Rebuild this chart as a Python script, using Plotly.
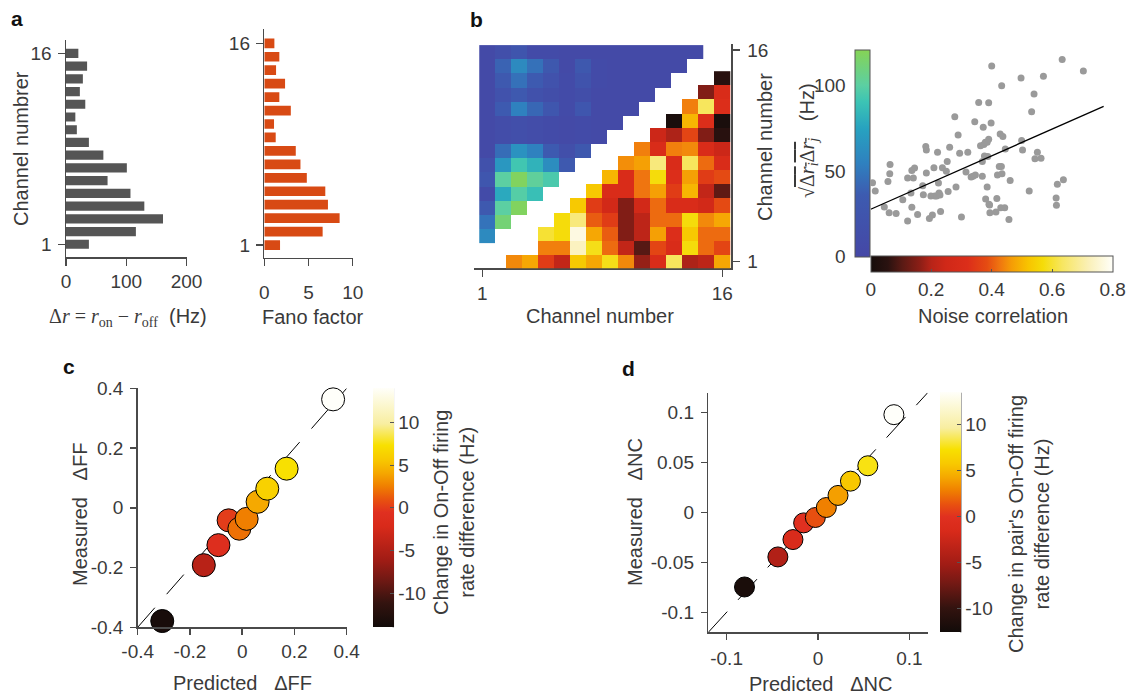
import plotly.graph_objects as go

W, H = 1137, 697
FONT = "Liberation Sans, Arial, Helvetica, sans-serif"
TXT = "#3a3a3a"
AX = "#4a4a4a"
TICK = 19
TITLE = 20


def fx(p):
    return p / W


def fy(p):
    return 1 - p / H


# ---------------- data ----------------
channels = list(range(1, 17))
delta_r = [38, 116, 161, 130, 107, 69, 101, 62, 38, 18, 15.5, 32, 23, 28, 35, 20.5]
fano = [1.78, 6.6, 8.52, 7.2, 6.9, 4.81, 4.09, 3.56, 1.29, 1.1, 3.0, 1.7, 2.35, 1.33, 1.7, 1.14]

# lower triangle (noise correlation); row channel 1..14, first column of each row
nc_row_start = [3, 5, 5, 6, 7, 8, 9, 10, 11, 12, 13, 14, 15, 16]
nc_rows = [
    [0.445, 0.48, 0.35, 0.22, 0.53, 0.48, 0.58, 0.445, 0.17, 0.30, 0.63, 0.19, 0.21, 0.48],
    [0.435, 0.435, 0.73, 0.58, 0.415, 0.22, 0.10, 0.37, 0.30, 0.57, 0.415, 0.37],
    [0.60, 0.57, 0.77, 0.48, 0.40, 0.15, 0.21, 0.47, 0.32, 0.53, 0.415, 0.415],
    [0.57, 0.66, 0.40, 0.35, 0.15, 0.21, 0.415, 0.415, 0.57, 0.445, 0.48],
    [0.53, 0.35, 0.26, 0.15, 0.26, 0.415, 0.30, 0.30, 0.26, 0.38],
    [0.53, 0.30, 0.30, 0.425, 0.47, 0.35, 0.50, 0.22, 0.11],
    [0.50, 0.30, 0.425, 0.57, 0.32, 0.47, 0.35, 0.38],
    [0.45, 0.47, 0.66, 0.30, 0.63, 0.415, 0.30],
    [0.435, 0.30, 0.435, 0.445, 0.30, 0.24],
    [0.24, 0.19, 0.37, 0.15, 0.05],
    [0.01, 0.50, 0.32, 0.01],
    [0.435, 0.63, 0.32],
    [0.15, 0.30],
    [0.05],
]

# upper triangle (sqrt(dri drj), Hz); rows for channel 3..16, starting at column 1
rate_rows = [
    [60],
    [48, 112],
    [32, 100, 118],
    [8, 78, 98, 88],
    [28, 100, 118, 102, 95],
    [18, 68, 92, 82, 62, 32],
    [5, 45, 65, 55, 35, 15, 30],
    [5, 10, 15, 10, 8, 5, 8, 5],
    [5, 10, 15, 10, 8, 5, 8, 5, 5],
    [5, 35, 55, 42, 28, 8, 28, 5, 5, 5],
    [5, 20, 32, 18, 12, 8, 12, 5, 5, 5, 5],
    [5, 33, 47, 35, 20, 8, 22, 8, 5, 5, 5, 5],
    [5, 40, 60, 47, 30, 5, 30, 8, 5, 5, 5, 5, 5],
    [5, 15, 25, 8, 8, 5, 5, 5, 5, 5, 5, 5, 5, 5],
]

# scatter: noise correlation vs sqrt(dri drj)
pair_nc = [0.006, 0.015, 0.045, 0.061, 0.057, 0.063, 0.064, 0.084, 0.106, 0.122, 0.122, 0.133,
           0.136, 0.136, 0.141, 0.145, 0.155, 0.172, 0.174, 0.182, 0.184, 0.184, 0.194, 0.199,
           0.204, 0.209, 0.212, 0.218, 0.221, 0.224, 0.226, 0.229, 0.231, 0.237, 0.25, 0.253,
           0.256, 0.261, 0.278, 0.282, 0.289, 0.294, 0.3, 0.315, 0.321, 0.332, 0.338, 0.344,
           0.346, 0.357, 0.363, 0.369, 0.369, 0.372, 0.374, 0.376, 0.379, 0.38, 0.385, 0.385,
           0.387, 0.39, 0.39, 0.391, 0.393, 0.394, 0.398, 0.4, 0.414, 0.417, 0.419, 0.425,
           0.428, 0.43, 0.432, 0.433, 0.434, 0.437, 0.443, 0.445, 0.457, 0.461, 0.499, 0.502,
           0.497, 0.524, 0.532, 0.54, 0.543, 0.551, 0.563, 0.571, 0.613, 0.614, 0.617, 0.637,
           0.633, 0.703]
pair_rate = [43.2, 38.3, 29, 25.6, 43.9, 48.4, 53.8, 25.2, 33.3, 20.9, 45.9, 37.2,
             28.8, 50.3, 45.9, 51.7, 24.6, 41.4, 36.2, 64.3, 62.3, 48.8, 22.3, 35.4,
             24.4, 51.9, 35.4, 35.4, 61, 43, 37.2, 36, 26.3, 51.9, 49.9, 55.6,
             38.1, 63.9, 81.7, 40.7, 71, 60.4, 23.2, 49.4, 61, 46.5, 47, 78.8,
             47.6, 90, 64.7, 47, 55.6, 75.5, 65.4, 58.7, 66.8, 33.7, 40.7, 66.8,
             58.5, 89.8, 68.5, 30.6, 30.2, 25.6, 78, 111.3, 26.1, 33.9, 47.6, 52.7,
             71.6, 28.6, 52.7, 99.7, 48.4, 70.1, 28.5, 62.9, 21.7, 44.5, 67.8, 62.3,
             104.3, 38.3, 84.6, 94.9, 57.1, 61, 57.5, 105.3, 34.3, 30, 42.2, 44.9,
             115, 108.4]
fit_x = [0.0, 0.77]
fit_y = [27.7, 87.7]

# panel c
ff_pred = [0.348, 0.170, 0.096, 0.059, 0.017, -0.011, -0.052, -0.091, -0.147, -0.306]
ff_meas = [0.363, 0.131, 0.064, 0.020, -0.037, -0.070, -0.042, -0.125, -0.192, -0.379]
ff_rate_change = [14, 7.3, 6.2, 4.1, 2.5, 2.0, 0.0, -1.1, -4.5, -13.5]

# panel d
nc_pred = [0.083, 0.0545, 0.0355, 0.0219, 0.0091, -0.0029, -0.0157, -0.0274, -0.0439, -0.0804]
nc_meas = [0.098, 0.0468, 0.0314, 0.0171, 0.0050, -0.0050, -0.0104, -0.0271, -0.0445, -0.0746]
nc_rate_change = [13.5, 7.5, 5.7, 3.9, 2.8, 1.2, -0.1, -1.4, -4.2, -12.0]

# ---------------- colour scales ----------------
hot_b = [[0, '#160d0b'], [0.07, '#2a1210'], [0.13, '#5a1a14'], [0.2, '#8a1e16'],
         [0.25, '#b82418'], [0.31, '#d02818'], [0.40, '#dc2e1a'], [0.48, '#e54c12'],
         [0.53, '#ef7410'], [0.58, '#f59c06'], [0.65, '#f8c400'], [0.71, '#f5dc08'],
         [0.79, '#f7e660'], [0.9, '#faf0b8'], [1, '#fffffa']]
hot_cd = [[0, '#120b09'], [0.1, '#33130f'], [0.2, '#721914'], [0.28, '#a01c15'],
          [0.36, '#c02418'], [0.42, '#d82a1a'], [0.48, '#e03020'], [0.53, '#e85010'],
          [0.59, '#f08000'], [0.645, '#f5a800'], [0.7, '#f8c800'], [0.76, '#f8e000'],
          [0.85, '#f8eea0'], [1, '#fffffa']]
blue_scale = [[0, '#4547a6'], [0.3, '#3d5bb0'], [0.45, '#2f80bf'], [0.62, '#27a2c0'],
              [0.75, '#3cc4b4'], [0.83, '#5ccfa2'], [1, '#86d455']]

# ---------------- build matrices ----------------
lower_z = []
for start, vals in zip(nc_row_start, nc_rows):
    row = [None] * 16
    for i, v in enumerate(vals):
        row[start - 1 + i] = v
    lower_z.append(row)
lower_y = list(range(1, 15))

upper_z = []
for vals in rate_rows:
    row = [None] * 14
    for i, v in enumerate(vals):
        row[i] = v
    upper_z.append(row)
upper_x = [k + 0.31 for k in range(1, 15)]
upper_y = [c - 0.15 for c in range(3, 17)]

fig = go.Figure()

# panel a
fig.add_trace(go.Bar(x=delta_r, y=channels, orientation='h', width=0.72,
                     marker=dict(color='#555555', line=dict(width=0)),
                     xaxis='x', yaxis='y'))
fig.add_trace(go.Bar(x=fano, y=channels, orientation='h', width=0.72,
                     marker=dict(color='#d84a14', line=dict(width=0)),
                     xaxis='x2', yaxis='y2'))

# panel b heatmap
fig.add_trace(go.Heatmap(z=lower_z, x=channels, y=lower_y, colorscale=hot_b, zmin=0, zmax=0.8,
                         hoverongaps=False, xaxis='x3', yaxis='y3',
                         colorbar=dict(orientation='h', x=fx(870.7), xanchor='left',
                                       y=fy(256.5), yanchor='top', len=242, lenmode='pixels',
                                       thickness=15.5, thicknessmode='pixels', xpad=0, ypad=0,
                                       outlinewidth=1, outlinecolor='#555555',
                                       tickvals=[0, 0.2, 0.4, 0.6, 0.8],
                                       ticks='inside', ticklen=3, tickcolor='#555555',
                                       showticklabels=False)))
fig.add_trace(go.Heatmap(z=upper_z, x=upper_x, y=upper_y, colorscale=blue_scale, zmin=0, zmax=120.6,
                         hoverongaps=False, xaxis='x3', yaxis='y3',
                         colorbar=dict(x=fx(855.3), xanchor='left', y=fy(256.7), yanchor='bottom',
                                       len=206.7, lenmode='pixels', thickness=15.4,
                                       thicknessmode='pixels', xpad=0, ypad=0,
                                       outlinewidth=1, outlinecolor='#555555',
                                       ticks='', showticklabels=False)))

# scatter
fig.add_trace(go.Scatter(x=pair_nc, y=pair_rate, mode='markers',
                         marker=dict(size=7, color='#9a9a9a'), xaxis='x4', yaxis='y4'))
fig.add_trace(go.Scatter(x=fit_x, y=fit_y, mode='lines', line=dict(color='black', width=1.3),
                         xaxis='x4', yaxis='y4'))

# panel c
fig.add_trace(go.Scatter(x=[-0.4, 0.4], y=[-0.4, 0.4], mode='lines',
                         line=dict(color='black', width=1, dash='26px,18px'),
                         xaxis='x5', yaxis='y5'))
fig.add_trace(go.Scatter(x=ff_pred[::-1], y=ff_meas[::-1], mode='markers', cliponaxis=False,
                         marker=dict(size=23, color=ff_rate_change[::-1], colorscale=hot_cd,
                                     cmin=-14, cmax=14, line=dict(color='black', width=1),
                                     showscale=True,
                                     colorbar=dict(x=fx(372.7), xanchor='left', y=fy(627.3),
                                                   yanchor='bottom', len=239, lenmode='pixels',
                                                   thickness=20.6, thicknessmode='pixels',
                                                   xpad=0, ypad=0, outlinewidth=0,
                                                   tickvals=[-10, -5, 0, 5, 10],
                                                   ticktext=['-10', '-5', '0', '5', '10'],
                                                   ticks='inside', ticklen=4, tickcolor='#555555',
                                                   tickfont=dict(family=FONT, size=TICK, color=TXT))),
                         xaxis='x5', yaxis='y5'))

# panel d
fig.add_trace(go.Scatter(x=[-0.12, 0.12], y=[-0.12, 0.12], mode='lines',
                         line=dict(color='black', width=1, dash='28px,16px'),
                         xaxis='x6', yaxis='y6'))
fig.add_trace(go.Scatter(x=nc_pred[::-1], y=nc_meas[::-1], mode='markers', cliponaxis=False,
                         marker=dict(size=20, color=nc_rate_change[::-1], colorscale=hot_cd,
                                     cmin=-12.6, cmax=13.5, line=dict(color='black', width=1),
                                     showscale=True,
                                     colorbar=dict(x=fx(940), xanchor='left', y=fy(632.3),
                                                   yanchor='bottom', len=239.6, lenmode='pixels',
                                                   thickness=20.7, thicknessmode='pixels',
                                                   xpad=0, ypad=0, outlinewidth=0,
                                                   tickvals=[-10, -5, 0, 5, 10],
                                                   ticktext=['-10', '-5', '0', '5', '10'],
                                                   ticks='inside', ticklen=4, tickcolor='#555555',
                                                   tickfont=dict(family=FONT, size=TICK, color=TXT))),
                         xaxis='x6', yaxis='y6'))


def axis(domain, rng, tickvals=None, ticktext=None, anchor=None, show=True, side=None, ticklen=7,
         standoff=4, layer='above traces', line=True):
    d = dict(domain=domain, range=rng, showgrid=False, zeroline=False, fixedrange=True,
             tickfont=dict(family=FONT, size=TICK, color=TXT), layer=layer, automargin=False)
    if anchor:
        d['anchor'] = anchor
    if side:
        d['side'] = side
    if show:
        d.update(showline=line, linecolor=AX, linewidth=1.5, ticks='outside' if line else '',
                 ticklen=ticklen, tickcolor=AX, tickwidth=1.5, tickvals=tickvals,
                 ticklabelstandoff=standoff)
        if ticktext is not None:
            d['ticktext'] = ticktext
    else:
        d.update(showline=False, ticks='', showticklabels=False)
    return d


fig.update_layout(
    width=W, height=H, margin=dict(l=0, r=0, t=0, b=0, autoexpand=False),
    paper_bgcolor='white', plot_bgcolor='rgba(0,0,0,0)', showlegend=False,
    font=dict(family=FONT, size=TICK, color=TXT),
    xaxis=axis([fx(66), fx(186.5)], [0, 200], [0, 100, 200], anchor='y', standoff=0),
    yaxis=axis([fy(257), fy(40)], [0, 17.05], [1, 16], anchor='x', standoff=2),
    xaxis2=axis([fx(264.3), fx(352.7)], [0, 10], [0, 5, 10], anchor='y2', standoff=10),
    yaxis2=axis([fy(257.7), fy(29.3)], [0.06, 17.04], [1, 16], anchor='x2', standoff=2),
    xaxis3=axis([fx(474.3), fx(731)], [0.5, 16.54], [1, 16], anchor='y3', standoff=0,
                layer='below traces'),
    yaxis3=axis([fy(268.3), fy(44.4)], [0.53, 16.4], [1, 16], anchor='x3', side='right',
                standoff=4),
    xaxis4=axis([fx(870.7), fx(1112.7)], [0, 0.8], [0, 0.2, 0.4, 0.6, 0.8],
                ['0', '0.2', '0.4', '0.6', '0.8'], anchor='y4', standoff=19, line=False),
    yaxis4=axis([fy(256.7), fy(50)], [0, 120.6], [0, 50, 100], ['0', '50', '100'],
                anchor='x4', standoff=24, line=False),
    xaxis5=axis([fx(137.7), fx(346.7)], [-0.4, 0.4], [-0.4, -0.2, 0, 0.2, 0.4],
                ['-0.4', '-0.2', '0', '0.2', '0.4'], anchor='y5', ticklen=6, standoff=0),
    yaxis5=axis([fy(627.3), fy(388.3)], [-0.4, 0.4], [-0.4, -0.2, 0, 0.2, 0.4],
                ['-0.4', '-0.2', '0', '0.2', '0.4'], anchor='x5', ticklen=6, standoff=3),
    xaxis6=axis([fx(708.3), fx(927.7)], [-0.12, 0.12], [-0.1, 0, 0.1], ['-0.1', '0', '0.1'],
                anchor='y6', ticklen=6, standoff=2),
    yaxis6=axis([fy(632.3), fy(392.7)], [-0.12, 0.12], [-0.1, -0.05, 0, 0.05, 0.1],
                ['-0.1', '-0.05', '0', '0.05', '0.1'], anchor='x6', ticklen=6, standoff=3),
)


def ann(text, x, y, size=TITLE, angle=0, bold=False, xanchor='center', yanchor='middle'):
    if bold:
        text = '<b>' + text + '</b>'
    return dict(text=text, x=fx(x), y=fy(y), xref='paper', yref='paper', showarrow=False,
                font=dict(family=FONT, size=size, color=TXT if not bold else '#111111'),
                textangle=angle, xanchor=xanchor, yanchor=yanchor)


NB = '\u00a0'
SERIF = "font-family:'Liberation Serif', 'DejaVu Serif', serif"
dr_title = (f"<span style=\"{SERIF}\">Δ<i>r</i> = <i>r</i><sub>on</sub> − <i>r</i><sub>off</sub></span>"
            f"{NB}{NB}(Hz)")
sqrt_title = (f"<span style=\"{SERIF}\">√<span style=\"text-decoration:overline\">Δ<i>r<sub>i</sub></i>"
              f"Δ<i>r<sub>j</sub></i></span></span>{NB}{NB}{NB}(Hz)")

annotations = [
    ann('a', 17, 18, size=21, bold=True),
    ann('b', 476, 20, size=21, bold=True),
    ann('c', 69, 366, size=21, bold=True),
    ann('d', 628, 368, size=21, bold=True),
    ann('Channel numbrer', 21, 149, angle=-90),
    ann(dr_title, 128, 317),
    ann('Fano factor', 313, 317),
    ann('Channel number', 600, 316),
    ann('Channel number', 765, 147, angle=-90),
    ann(sqrt_title, 809, 141, angle=-90),
    ann('Noise correlation', 993, 316),
    ann(f'Measured{NB}{NB}{NB}ΔFF', 80, 515, angle=-90),
    ann(f'Predicted{NB}{NB}{NB}ΔFF', 242, 683),
    ann('Change in On-Off firing<br>rate difference (Hz)', 454, 513, angle=-90),
    ann(f'Measured{NB}{NB}{NB}ΔNC', 635, 512, angle=-90),
    ann(f'Predicted{NB}{NB}{NB}ΔNC', 820, 684),
    ann("Change in pair's On-Off firing<br>rate difference (Hz)", 1029, 524, angle=-90),
]
fig.update_layout(annotations=annotations)

shapes = [
    dict(type='line', xref='paper', yref='paper', x0=fx(393.3), x1=fx(393.3), y0=fy(388.3),
         y1=fy(627.3), line=dict(color=AX, width=1.5)),
    dict(type='line', xref='paper', yref='paper', x0=fx(960.7), x1=fx(960.7), y0=fy(392.7),
         y1=fy(632.3), line=dict(color=AX, width=1.5)),
]
fig.update_layout(shapes=shapes)

fig.write_html("out.html", config={'displayModeBar': False, 'staticPlot': True},
               post_script="document.body.style.margin='0px';document.body.style.overflow='hidden';")
